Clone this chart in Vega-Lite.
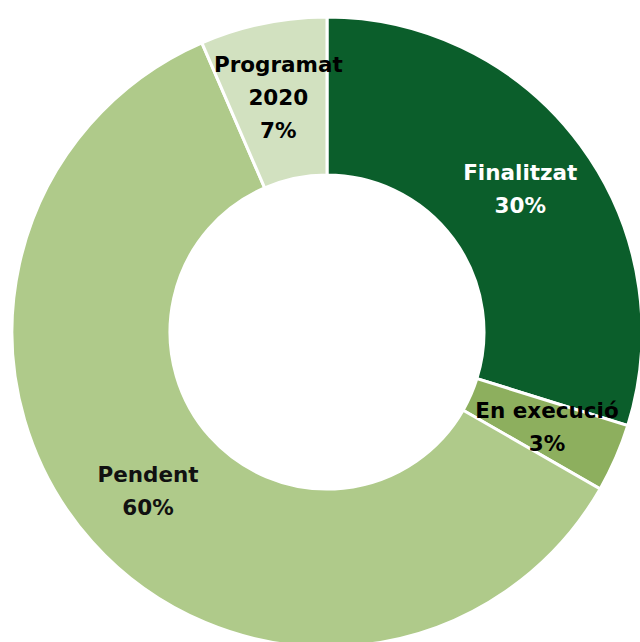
{
  "$schema": "https://vega.github.io/schema/vega-lite/v6.json",
  "width": 654,
  "height": 664,
  "autosize": "none",
  "padding": 0,
  "background": "white",
  "config": {"view": {"stroke": null}},
  "data": {
    "values": [
      {"estat": "Finalitzat", "valor": 29.8, "ord": 1, "linies": 2, "etiqueta": "Finalitzat\n30%"},
      {"estat": "En execució", "valor": 3.5, "ord": 2, "linies": 2, "etiqueta": "En execució\n3%"},
      {"estat": "Pendent", "valor": 60.2, "ord": 3, "linies": 2, "etiqueta": "Pendent\n60%"},
      {"estat": "Programat 2020", "valor": 6.5, "ord": 4, "linies": 3, "etiqueta": "Programat\n2020\n7%"}
    ]
  },
  "encoding": {
    "theta": {"field": "valor", "type": "quantitative", "stack": true},
    "order": {"field": "ord", "type": "quantitative"}
  },
  "layer": [
    {
      "mark": {"type": "arc", "outerRadius": 315, "innerRadius": 157, "stroke": "white", "strokeWidth": 3},
      "encoding": {
        "color": {
          "field": "estat",
          "type": "nominal",
          "scale": {
            "domain": ["Finalitzat", "En execució", "Pendent", "Programat 2020"],
            "range": ["#0b5e2b", "#8daf5e", "#afca8a", "#d2e1c0"]
          },
          "legend": null
        }
      }
    },
    {
      "mark": {"type": "text", "radius": 240, "dy": -16, "font": "DejaVu Sans", "fontWeight": "bold", "fontSize": 21.5, "lineBreak": "\n", "lineHeight": 33, "align": "center", "baseline": "middle"},
      "encoding": {
        "text": {"field": "etiqueta", "type": "nominal"},
        "opacity": {"condition": {"test": "datum.linies == 2", "value": 1}, "value": 0},
        "color": {
          "field": "estat",
          "type": "nominal",
          "scale": {
            "domain": ["Finalitzat", "En execució", "Pendent", "Programat 2020"],
            "range": ["#ffffff", "#000000", "#111111", "#000000"]
          },
          "legend": null
        }
      }
    },
    {
      "mark": {"type": "text", "radius": 240, "dy": -31, "font": "DejaVu Sans", "fontWeight": "bold", "fontSize": 21.5, "lineBreak": "\n", "lineHeight": 33, "align": "center", "baseline": "middle"},
      "encoding": {
        "text": {"field": "etiqueta", "type": "nominal"},
        "opacity": {"condition": {"test": "datum.linies == 3", "value": 1}, "value": 0},
        "color": {
          "field": "estat",
          "type": "nominal",
          "scale": {
            "domain": ["Finalitzat", "En execució", "Pendent", "Programat 2020"],
            "range": ["#ffffff", "#000000", "#111111", "#000000"]
          },
          "legend": null
        }
      }
    }
  ],
  "resolve": {"scale": {"color": "independent"}}
}
